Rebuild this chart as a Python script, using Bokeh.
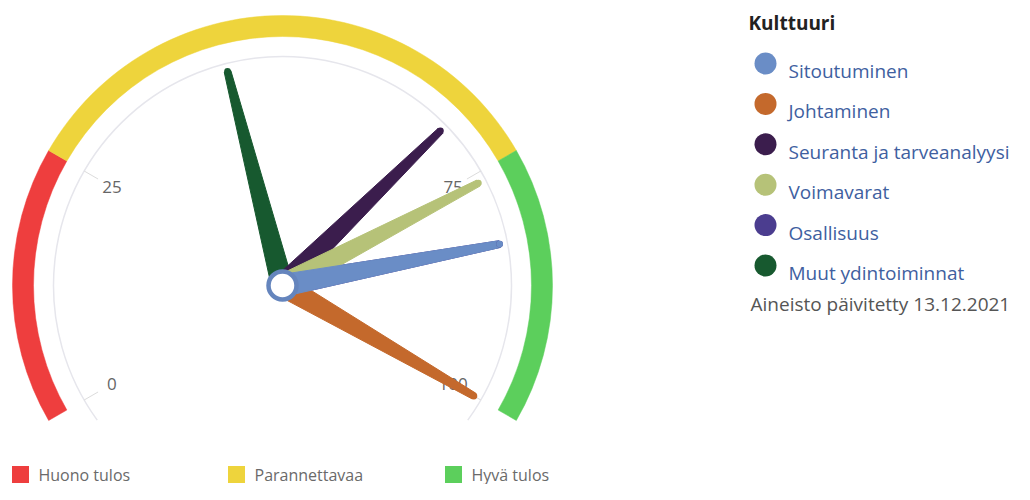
import numpy as np
from bokeh.plotting import figure
from bokeh.models import Range1d
from bokeh.core.properties import value
from bokeh.embed import file_html
from bokeh.resources import INLINE

# ---------------- data ----------------
gauge_title = "Kulttuuri"
updated_text = "Aineisto päivitetty 13.12.2021"

series_names = ["Sitoutuminen", "Johtaminen", "Seuranta ja tarveanalyysi",
                "Voimavarat", "Osallisuus", "Muut ydintoiminnat"]
series_values = [83, 100, 69, 76, 83, 44]   # Osallisuus hidden under Sitoutuminen
series_colors = ["#6a8dc6", "#c4692c", "#3b1d4d", "#b6c278", "#4b3d8f", "#17592f"]

band_names = ["Huono tulos", "Parannettavaa", "Hyvä tulos"]
band_from = [0, 25, 75]
band_to = [25, 75, 100]
band_colors = ["#ee3e3e", "#eed43c", "#5ccf5c"]

tick_values = [0, 25, 75, 100]
tick_labels = ["0", "25", "75", "100"]

# ---------------- layout ----------------
W, H = 1014, 484
CX, CY = 282, 285          # gauge centre in canvas pixels (from top-left)
FONT = value("Open Sans")

p = figure(width=W, height=H, x_range=Range1d(-CX, W - CX), y_range=Range1d(CY - H, CY),
           output_backend="svg", toolbar_location=None, min_border=0,
           x_axis_location=None, y_axis_location=None)
p.grid.visible = False
p.outline_line_color = None
p.background_fill_color = "white"


def ang(v):
    """gauge value -> bokeh angle (radians, ccw from +x)"""
    theta = np.radians(-120.0 + 2.4 * np.asarray(v, dtype=float))
    return np.pi / 2 - theta


def px(x_img):
    return x_img - CX


def py(y_img):
    return CY - y_img


# bands
p.annular_wedge(x=0, y=0, inner_radius=249, outer_radius=270,
                start_angle=ang(band_to), end_angle=ang(band_from),
                direction="anticlock", fill_color=band_colors, line_color=band_colors,
                line_width=0.5)

# pane / axis line
p.arc(x=0, y=0, radius=229, start_angle=float(ang(102.5)), end_angle=float(ang(-2.5)),
      direction="anticlock", line_color="#e6e6ec", line_width=1.5)

# ticks and labels
ta = ang(tick_values)
p.segment(x0=213 * np.cos(ta), y0=213 * np.sin(ta), x1=229 * np.cos(ta), y1=229 * np.sin(ta),
          line_color="#dcdcdc", line_width=1)
p.text(x=197 * np.cos(ta), y=197 * np.sin(ta), text=tick_labels, text_font=FONT,
       text_font_size="17px", text_color="#666666", text_align="center",
       text_baseline="middle")

# needles
L, HB, HT = 221, 11.0, 3.4
order = [4, 5, 2, 3, 1, 0]
xs, ys, cols, tx, ty = [], [], [], [], []
for i in order:
    a = float(ang(series_values[i]))
    ux, uy = np.cos(a), np.sin(a)
    nx, ny = -uy, ux
    xs.append([HB * nx, L * ux + HT * nx, L * ux - HT * nx, -HB * nx])
    ys.append([HB * ny, L * uy + HT * ny, L * uy - HT * ny, -HB * ny])
    cols.append(series_colors[i])
    tx.append(L * ux)
    ty.append(L * uy)
p.patches(xs=xs, ys=ys, fill_color=cols, line_color=cols, line_width=1)
p.circle(x=tx, y=ty, radius=HT, fill_color=cols, line_color=None)

# pivot
p.circle(x=[0], y=[0], radius=14, fill_color="white", line_color="#6585bd", line_width=4.5)

# right legend
LX, LY0, LDY = px(765), py(63), 40.4
ly = [LY0 - LDY * k for k in range(len(series_names))]
p.text(x=[px(748)], y=[py(22)], text=[gauge_title], text_font=FONT, text_font_size="19px",
       text_font_style="bold", text_color="#222222", text_baseline="alphabetic")
p.scatter(x=[LX] * len(series_names), y=ly, size=22, marker="circle",
          fill_color=series_colors, line_color=None)
p.text(x=[LX + 23] * len(series_names), y=[v - 7.5 for v in ly], text=series_names,
       text_font=FONT, text_font_size="19px", text_color="#40609f",
       text_baseline="alphabetic")
p.text(x=[px(750)], y=[py(303)], text=[updated_text], text_font=FONT, text_font_size="19px",
       text_color="#555555", text_baseline="alphabetic")

# bottom legend (bands)
BY = py(474)
bx = [px(20), px(236), px(453)]
p.scatter(x=bx, y=[BY] * 3, marker="square", size=17, fill_color=band_colors, line_color=None)
p.text(x=[v + 18 for v in bx], y=[BY] * 3, text=band_names, text_font=FONT,
       text_font_size="16px", text_color="#6a6a6a", text_baseline="middle")

open("out.html", "w").write(file_html(p, INLINE))
